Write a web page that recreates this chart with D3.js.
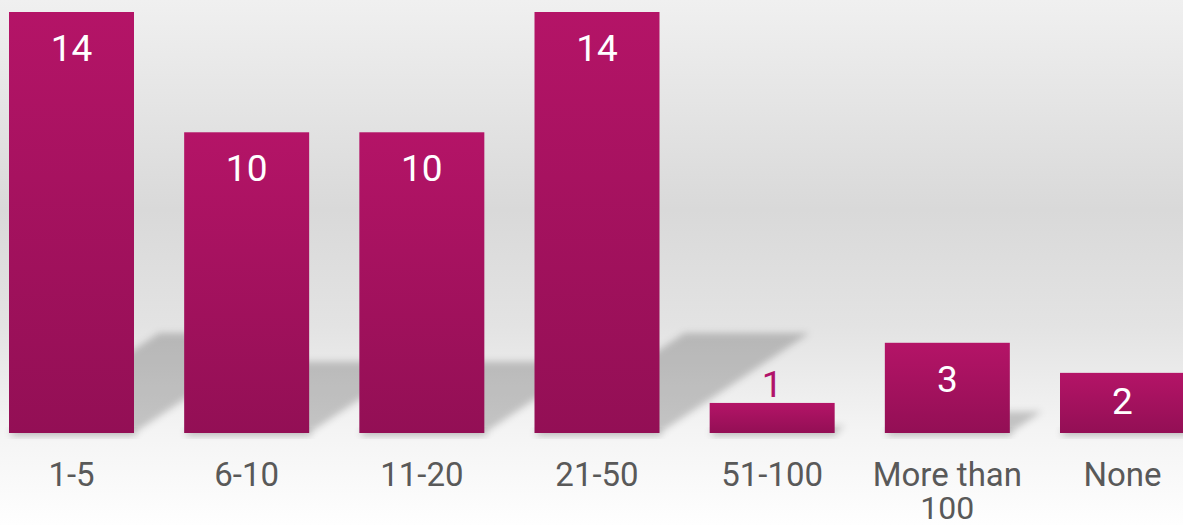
<!DOCTYPE html>
<html>
  <head>
    <meta charset="utf-8">
    <title>Bar chart with shadows</title>
    <style>
      body { margin: 0; }
      svg { display: block; font-family: Roboto, "Noto Sans", sans-serif; }
      .cat-label { fill: #595959; font-size: 33px; }
      .val-label { font-size: 37px; }
    </style>
  </head>
  <body>
    <script src="https://d3js.org/d3.v7.min.js"></script>
    <script>
      const categories = ["1-5", "6-10", "11-20", "21-50", "51-100", "More than 100", "None"];
      const values = [14, 10, 10, 14, 1, 3, 2];

      const width = 1183;
      const height = 525;
      const baseY = 433;

      const svg = d3.select("body")
        .append("svg")
        .attr("width", width)
        .attr("height", height);

      const defs = svg.append("defs");

      const bg = defs.append("linearGradient")
        .attr("id", "bg")
        .attr("x1", 0).attr("y1", 0).attr("x2", 0).attr("y2", 1);
      bg.append("stop").attr("offset", "0%").attr("stop-color", "#f0f0f0");
      bg.append("stop").attr("offset", "40%").attr("stop-color", "#d9d9d9");
      bg.append("stop").attr("offset", "62%").attr("stop-color", "#e3e3e3");
      bg.append("stop").attr("offset", "82%").attr("stop-color", "#f4f4f4");
      bg.append("stop").attr("offset", "100%").attr("stop-color", "#fefefe");

      const barGrad = defs.append("linearGradient")
        .attr("id", "barGrad")
        .attr("x1", 0).attr("y1", 0).attr("x2", 0).attr("y2", 1);
      barGrad.append("stop").attr("offset", "0%").attr("stop-color", "#b41467");
      barGrad.append("stop").attr("offset", "100%").attr("stop-color", "#930f55");

      defs.append("filter")
        .attr("id", "blur")
        .attr("x", "-20%").attr("y", "-20%").attr("width", "140%").attr("height", "140%")
        .append("feGaussianBlur")
        .attr("stdDeviation", 3.5);

      svg.append("rect")
        .attr("width", width)
        .attr("height", height)
        .attr("fill", "url(#bg)");

      const x = d3.scaleBand()
        .domain(categories)
        .range([9, 1185])
        .paddingInner(50.17 / 175.17)
        .paddingOuter(0);

      const y = d3.scaleLinear()
        .domain([0, 14])
        .range([baseY, 12]);

      const data = categories.map((c, i) => ({ cat: c, value: values[i] }));

      // floor shadows leaning back to the right
      const slant = 1.5;
      svg.append("g")
        .attr("filter", "url(#blur)")
        .selectAll("path")
        .data(data)
        .join("path")
        .attr("fill", "#000")
        .attr("fill-opacity", 0.2)
        .attr("d", d => {
          const x0 = x(d.cat);
          const x1 = x0 + x.bandwidth();
          const dy = (baseY - y(d.value)) * 0.2375;
          const dx = dy * slant;
          return `M${x0},${baseY}L${x1},${baseY}L${x1 + dx},${baseY - dy}L${x0 + dx},${baseY - dy}Z`;
        });

      // soft shade under each bar
      svg.append("g")
        .attr("filter", "url(#blur)")
        .selectAll("rect")
        .data(data)
        .join("rect")
        .attr("x", d => x(d.cat) + 2)
        .attr("y", baseY - 4)
        .attr("width", x.bandwidth())
        .attr("height", 8)
        .attr("fill", "#000")
        .attr("fill-opacity", 0.12);

      svg.append("g")
        .selectAll("rect")
        .data(data)
        .join("rect")
        .attr("x", d => x(d.cat))
        .attr("y", d => y(d.value))
        .attr("width", x.bandwidth())
        .attr("height", d => baseY - y(d.value))
        .attr("fill", "url(#barGrad)");

      // value labels: inside the bar unless it is too short
      svg.append("g")
        .selectAll("text")
        .data(data)
        .join("text")
        .attr("class", "val-label")
        .attr("text-anchor", "middle")
        .attr("x", d => x(d.cat) + x.bandwidth() / 2)
        .attr("y", d => {
          const h = baseY - y(d.value);
          if (h < 45) return y(d.value) - 6;
          return Math.min(y(d.value) + 49, baseY - 19);
        })
        .attr("fill", d => (baseY - y(d.value) < 45 ? "#b1136a" : "#fff"))
        .text(d => d.value);

      // category labels, wrapped to the band step (one text per line)
      const catG = svg.append("g");
      const measure = catG.append("text").attr("class", "cat-label");
      categories.forEach(c => {
        const words = c.split(" ");
        const lines = [];
        let line = [];
        words.forEach(w => {
          line.push(w);
          measure.text(line.join(" "));
          if (measure.node().getComputedTextLength() > x.step() && line.length > 1) {
            line.pop();
            lines.push(line.join(" "));
            line = [w];
          }
        });
        lines.push(line.join(" "));
        lines.forEach((l, i) => {
          catG.append("text")
            .attr("class", "cat-label")
            .attr("text-anchor", "middle")
            .attr("x", x(c) + x.bandwidth() / 2)
            .attr("y", 486 + i * 33)
            .style("font-size", i > 0 ? "32px" : null)
            .text(l);
        });
      });
      measure.remove();
    </script>
  </body>
</html>
